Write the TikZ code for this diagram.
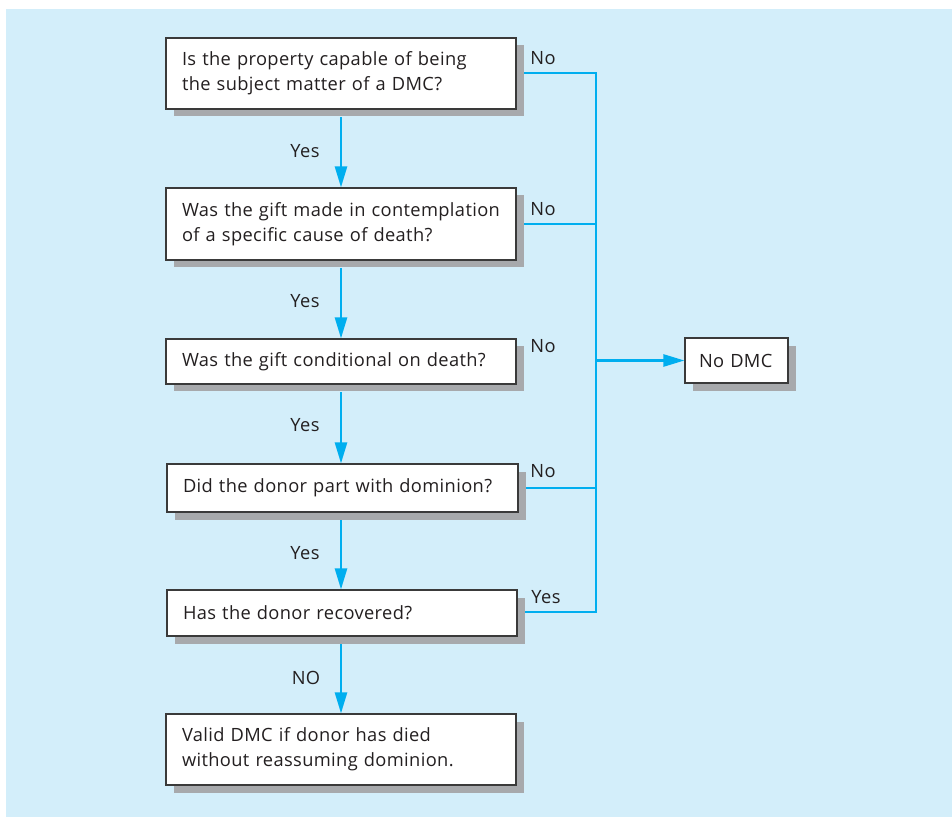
\documentclass[tikz,border=0pt]{standalone}
\usepackage{fontspec}
\setmainfont[LetterSpace=2]{Open Sans}
\usepackage{tikz}
\usetikzlibrary{arrows.meta,shadows}

\definecolor{bgblue}{HTML}{D3EEFA}
\definecolor{wire}{HTML}{00AEEF}
\definecolor{boxshadow}{HTML}{A7A9AC}
\definecolor{boxline}{HTML}{3A3A3A}
\definecolor{ink}{HTML}{231F20}

\begin{document}
\begin{tikzpicture}[
    question/.style={draw=boxline, line width=0.6pt, fill=white, align=left,
        text width=6.36cm, inner xsep=0.32cm, inner ysep=0pt,
        font=\fontsize{10.4}{14.2}\selectfont, text=ink,
        drop shadow={shadow xshift=0.15cm, shadow yshift=-0.15cm, fill=boxshadow, opacity=1}},
    answer/.style={font=\fontsize{10.4}{14.2}\selectfont, text=ink},
    flow/.style={draw=wire, line width=1.4pt},
    >={Triangle[length=0.42cm,width=0.24cm]}
]
    \fill[white] (0,0) rectangle (19.04,-16.34);
    \fill[bgblue] (0.12,-0.18) rectangle (19.04,-16.34);

    \node[question, minimum height=1.42cm] (PROP) at (6.82,-1.47)
        {Is the property capable of being\\the subject matter of a DMC?};
    \node[question, minimum height=1.44cm] (CONT) at (6.82,-4.48)
        {Was the gift made in contemplation\\of a specific cause of death?};
    \node[question, minimum height=0.9cm] (COND) at (6.82,-7.23)
        {Was the gift conditional on death?};
    \node[question, minimum height=0.96cm, text width=6.38cm] (DOM) at (6.85,-9.76)
        {Did the donor part with dominion?};
    \node[question, minimum height=0.92cm] (REC) at (6.84,-12.26)
        {Has the donor recovered?};
    \node[question, minimum height=1.42cm] (VAL) at (6.82,-14.99)
        {Valid DMC if donor has died\\without reassuming dominion.};

    \node[question, text width=1.5cm, inner xsep=0.28cm, minimum height=0.9cm] (NDMC) at (14.73,-7.21) {No DMC};

    \node[answer] (y1) at (6.1,-3.02) {Yes};
    \node[answer] (y2) at (6.1,-6.02) {Yes};
    \node[answer] (y3) at (6.1,-8.5) {Yes};
    \node[answer] (y4) at (6.1,-11.06) {Yes};
    \node[answer] (y5) at (6.12,-13.56) {NO};

    \node[answer] (n1) at (10.86,-1.16) {No};
    \node[answer] (n2) at (10.86,-4.18) {No};
    \node[answer] (n3) at (10.86,-6.92) {No};
    \node[answer] (n4) at (10.86,-9.42) {No};
    \node[answer] (n5) at (10.92,-11.94) {Yes};

    \coordinate (SPtop) at (11.92,-1.46);
    \coordinate (SPbot) at (11.92,-12.24);

    \draw[flow, ->] ([yshift=-0.15cm]PROP.south) -- (CONT.north);
    \draw[flow, ->] ([yshift=-0.15cm]CONT.south) -- (COND.north);
    \draw[flow, ->] ([yshift=-0.15cm]COND.south) -- (DOM.north -| COND.south);
    \draw[flow, ->] ([yshift=-0.15cm]DOM.south -| COND.south) -- (REC.north -| COND.south);
    \draw[flow, ->] ([yshift=-0.15cm]REC.south -| COND.south) -- (VAL.north);

    \draw[flow] ([xshift=0.15cm]PROP.east |- SPtop) -- (SPtop) -- (SPbot)
        -- ([xshift=0.15cm]REC.east |- SPbot);
    \draw[flow] ([xshift=0.15cm]CONT.east) -- (CONT.east -| SPtop);
    \draw[flow] ([xshift=0.15cm]DOM.east) -- (DOM.east -| SPtop);
    \draw[flow, ->] (NDMC.west -| SPtop) -- (NDMC.west);
\end{tikzpicture}
\end{document}
